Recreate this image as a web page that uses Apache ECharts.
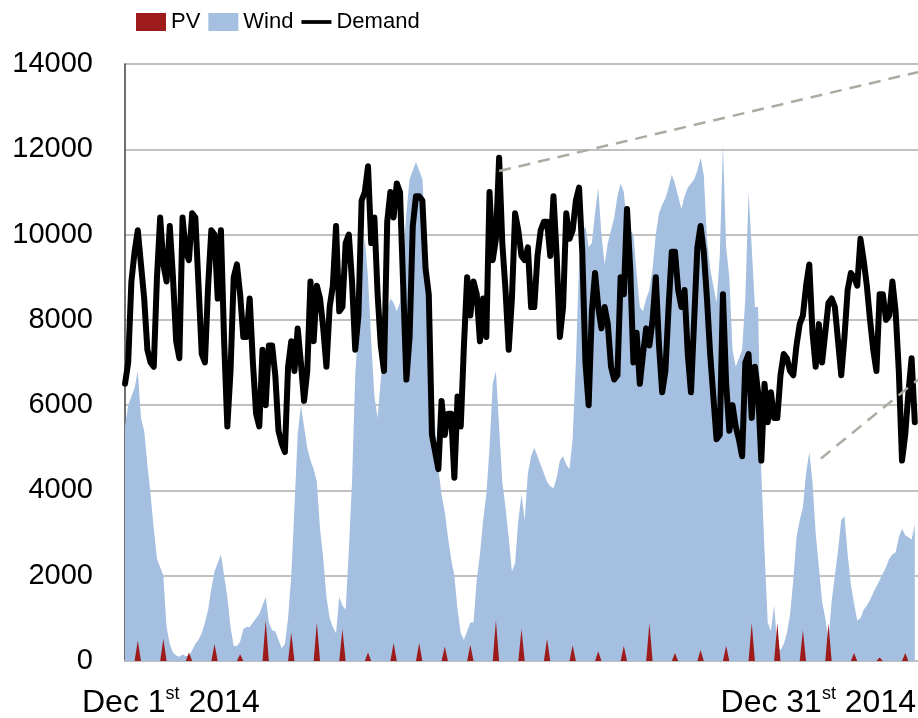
<!DOCTYPE html>
<html>
<head>
<meta charset="utf-8">
<script src="https://cdn.jsdelivr.net/npm/echarts@6/dist/echarts.min.js"></script>
<style>
html,body{margin:0;padding:0;background:#fff;}
#chart{width:918px;height:718px;}
</style>
</head>
<body>
<div id="chart"></div>
<script>
// Time step of the series (hours); December 2014 = 744 hours
const STEP_HOURS = 3;
const HOURS_IN_MONTH = 744;

// Demand (MW), one value every 3 hours, Dec 1 00:00 .. Dec 31 21:00
const demand = [
  6500,7000,8900,9600,10100,9300,8500,7300,
  7000,6900,9000,10400,9300,8900,10200,9000,
  7500,7100,10400,9600,9400,10500,10400,8800,
  7200,7000,8800,10100,10000,8500,10100,7500,
  5500,6800,9000,9300,8600,7600,7600,8500,
  7000,5800,5500,7300,6000,7400,7400,6700,
  5400,5100,4900,6900,7500,6800,7800,7000,
  6100,6800,8900,7500,8800,8500,7800,6900,
  8300,8800,10200,8200,8300,9800,10000,8900,
  7300,8100,10800,11000,11600,9800,10400,8600,
  7400,6800,10300,11000,10400,11200,11000,8800,
  6600,7600,10200,10900,10900,10800,9200,8600,
  5300,4900,4500,6100,5300,5800,5800,4300,
  6200,5500,7400,9000,8100,8900,8600,7500,
  8500,7600,11000,9400,9900,11800,9800,8700,
  7300,8500,10500,10100,9500,9400,9700,8300,
  8300,9500,10100,10300,10300,9500,10900,9500,
  7600,8300,10500,9900,10100,10800,11100,9600,
  7000,6000,8200,9100,8300,7800,8300,7900,
  6900,6600,6700,9000,8600,10600,9200,7000,
  7700,6500,7200,7800,7400,8000,9000,7400,
  6300,6800,8300,9600,9600,8700,8300,8700,
  7200,6300,8000,9700,10200,9600,8500,7200,
  6200,5200,5300,8600,6500,5400,6000,5500,
  5200,4800,7000,7200,5700,6900,6300,4700,
  6500,5600,6300,5700,5700,6700,7200,7100,
  6800,6700,7400,7900,8100,8800,9300,7700,
  6900,7900,7000,7700,8400,8500,8300,7500,
  6700,7600,8700,9100,9000,8800,9900,9400,
  8800,8000,7300,6800,8600,8600,8000,8100,
  8900,8200,6800,4700,5300,6300,7100,5600
];

// Wind generation (MW), same 3-hour grid
const wind = [
  5500,6000,6200,6400,6800,5700,5400,4600,
  3900,3100,2400,2200,2000,800,400,200,
  130,100,150,120,120,250,400,500,
  650,900,1200,1700,2100,2300,2500,2000,
  1500,800,350,350,450,750,800,800,
  900,1000,1100,1300,1500,900,720,700,
  500,300,400,1000,2000,3600,5300,6000,
  5500,5000,4700,4500,4200,3100,2400,1500,
  1000,800,650,1500,1300,1200,2600,4200,
  6700,7900,9300,9900,9000,7500,6200,5700,
  6600,7600,8200,8500,8400,8200,8400,9500,
  10500,11300,11500,11700,11500,11300,10000,8500,
  7000,5500,4500,3900,3500,2900,2400,2000,
  1200,650,500,700,900,900,1900,2500,
  3300,3900,5000,6500,6800,5500,4200,3600,
  2900,2100,2300,3300,3900,3300,4400,4800,
  5000,4800,4600,4400,4200,4100,4050,4300,
  4700,4800,4600,4500,5200,7000,9300,10000,
  10200,9700,9800,10500,11100,10000,9300,9800,
  10100,10400,10900,11200,11000,10200,10100,10000,
  9100,8300,8200,8500,8700,9200,10000,10500,
  10700,10850,11100,11400,11200,10900,10600,10900,
  11100,11200,11300,11500,11800,11400,9900,9200,
  8800,8400,9500,12100,9700,9000,7300,6900,
  7100,7300,8500,11000,9700,8300,8300,4400,
  2600,900,700,1300,350,250,400,650,
  1100,1900,2900,3300,3600,4400,4900,4200,
  3000,2200,1400,1000,500,1400,2000,2600,
  3300,3400,2500,1800,1350,950,1000,1200,
  1300,1430,1600,1750,1900,2050,2200,2400,
  2500,2550,2900,3100,2950,2900,2850,3200
];

// PV (MW): midday peak of each day Dec 1..31 (zero at night)
const pvNoonPeak = [480,520,200,400,160,950,670,900,750,200,420,420,340,380,950,750,
                    520,370,230,360,890,190,260,360,890,890,720,880,190,80,190];
const PV_PEAK_SLOT = 4; // 12:00 slot within each day's 3-hour grid

// Legend / axis text
const seriesNames = ['PV', 'Wind', 'Demand'];
const yTicks = {min: 0, max: 14000, interval: 2000};
const xTickLabels = [['Dec 1', 'st', ' 2014'], ['Dec 31', 'st', ' 2014']];

// Dashed zoom-guide lines, in data units [hour, MW]
const zoomGuides = [
  [[351, 11490], [744, 13810]],
  [[653, 4750], [744, 6600]]
];

const colors = {pv: '#9e1b1b', wind: '#a4bfe0', demand: '#000000', guide: '#adaaa2'};

const slotsPerDay = 24 / STEP_HOURS;
const toPairs = arr => arr.map((v, i) => [i * STEP_HOURS, v]);
const pvSeries = demand.map((_, i) => {
  const day = Math.floor(i / slotsPerDay);
  const slot = i % slotsPerDay;
  return [i * STEP_HOURS, slot === PV_PEAK_SLOT ? pvNoonPeak[day] : 0];
});

const chart = echarts.init(document.getElementById('chart'), null, {renderer: 'canvas'});

const FONT = 'Liberation Sans, Arial, sans-serif';
const richStyle = {
  m: {fontSize: 32, fontFamily: FONT, fill: '#000', lineHeight: 36},
  s: {fontSize: 18, fontFamily: FONT, fill: '#000', lineHeight: 18, verticalAlign: 'top'}
};
const labelText = parts => '{m|' + parts[0] + '}{s|' + parts[1] + '}{m|' + parts[2] + '}';

chart.setOption({
  animation: false,
  backgroundColor: '#ffffff',
  grid: {left: 125, right: 0, top: 64, bottom: 57, containLabel: false},
  legend: {
    left: 131, top: 6,
    itemWidth: 30, itemHeight: 18, itemGap: 8,
    symbolKeepAspect: true,
    textStyle: {fontFamily: FONT, fontSize: 22, color: '#000'},
    data: [
      {name: seriesNames[0], icon: 'rect'},
      {name: seriesNames[1], icon: 'rect'},
      {name: seriesNames[2], icon: 'path://M0,0 L32,0 L32,4 L0,4 Z'}
    ]
  },
  xAxis: {
    type: 'value', min: 0, max: HOURS_IN_MONTH,
    axisLine: {show: true, lineStyle: {color: '#bfbfbf', width: 2}},
    axisTick: {show: false},
    axisLabel: {show: false},
    splitLine: {show: false}
  },
  yAxis: {
    type: 'value', min: yTicks.min, max: yTicks.max, interval: yTicks.interval,
    axisLine: {show: true, lineStyle: {color: '#404040', width: 1.5}},
    axisTick: {show: false},
    axisLabel: {fontSize: 29, color: '#000', margin: 32, fontFamily: FONT, formatter: v => String(v)},
    splitLine: {lineStyle: {color: '#c0c0c0', width: 2}}
  },
  series: [
    {
      name: seriesNames[1], type: 'line', data: toPairs(wind),
      symbol: 'none', color: colors.wind,
      itemStyle: {color: colors.wind},
      lineStyle: {width: 0, color: colors.wind},
      areaStyle: {color: colors.wind, opacity: 1},
      z: 1
    },
    {
      name: seriesNames[0], type: 'line', data: pvSeries,
      symbol: 'none', color: colors.pv,
      itemStyle: {color: colors.pv},
      lineStyle: {width: 0, color: colors.pv},
      areaStyle: {color: colors.pv, opacity: 1},
      z: 2
    },
    {
      name: seriesNames[2], type: 'line', data: toPairs(demand),
      symbol: 'none', color: colors.demand,
      itemStyle: {color: colors.demand},
      lineStyle: {width: 6, color: colors.demand, join: 'round', cap: 'round'},
      z: 3,
      markLine: {
        silent: true, symbol: ['none', 'none'],
        label: {show: false},
        lineStyle: {type: [12, 8], color: colors.guide, width: 2.5},
        data: zoomGuides.map(g => [{coord: g[0]}, {coord: g[1]}])
      }
    }
  ],
  graphic: [
    {type: 'text', x: 82, y: 703, style: {text: labelText(xTickLabels[0]), rich: richStyle, align: 'left', verticalAlign: 'middle'}},
    {type: 'text', x: 916, y: 703, style: {text: labelText(xTickLabels[1]), rich: richStyle, align: 'right', verticalAlign: 'middle'}}
  ]
});
</script>
</body>
</html>
